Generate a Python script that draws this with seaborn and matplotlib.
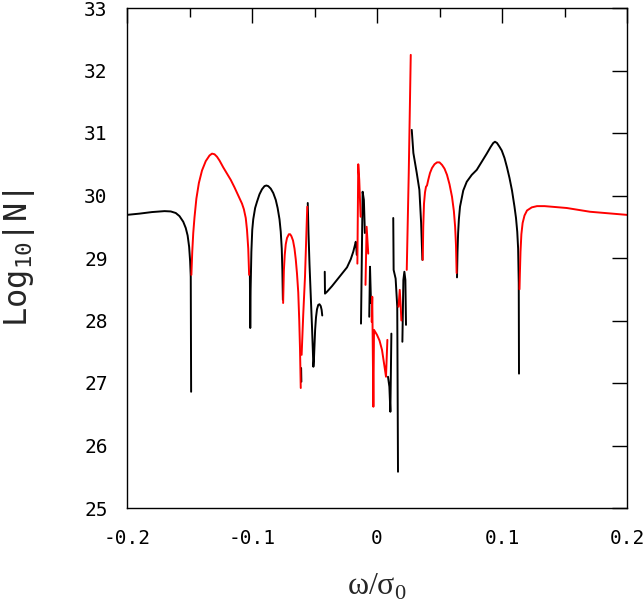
import matplotlib
matplotlib.use("Agg")
import matplotlib.pyplot as plt
import seaborn as sns
from matplotlib.ticker import MultipleLocator

# traced branches of log10|N| vs omega/sigma0 (colour alternates along the curve)
b1_x = [-0.2, -0.19, -0.18, -0.17, -0.165, -0.161, -0.158, -0.155, -0.153, -0.1515, -0.1503, -0.1495, -0.149, -0.1488, -0.1487]
b1_y = [29.69, 29.71, 29.735, 29.75, 29.745, 29.72, 29.67, 29.58, 29.48, 29.36, 29.18, 28.95, 28.7, 27.5, 26.86]
r1_x = [-0.1485, -0.1478, -0.147, -0.146, -0.1445, -0.1425, -0.14, -0.137, -0.134, -0.132, -0.13, -0.128,
        -0.126, -0.123, -0.12, -0.117, -0.114, -0.111, -0.108, -0.1065, -0.105, -0.104, -0.103, -0.1023]
r1_y = [28.73, 29.1, 29.4, 29.65, 29.95, 30.2, 30.4, 30.55, 30.64, 30.67, 30.66, 30.62,
        30.56, 30.45, 30.35, 30.25, 30.13, 30.0, 29.87, 29.78, 29.64, 29.45, 29.15, 28.73]
b2_x = [-0.1017, -0.1014, -0.1011, -0.1005, -0.0998, -0.099, -0.0975, -0.096, -0.094, -0.092, -0.09,
        -0.0885, -0.087, -0.085, -0.083, -0.081, -0.0795, -0.078, -0.077, -0.0762, -0.0757, -0.0753]
b2_y = [28.73, 27.88, 28.5, 29.1, 29.45, 29.62, 29.8, 29.9, 30.02, 30.1, 30.15,
        30.16, 30.15, 30.11, 30.04, 29.93, 29.8, 29.62, 29.42, 29.15, 28.8, 28.33]
r2_x = [-0.0751, -0.0745, -0.0738, -0.073, -0.072, -0.0705, -0.0695, -0.0685, -0.0672, -0.066, -0.065,
        -0.064, -0.063, -0.0622, -0.0616, -0.061]
r2_y = [28.28, 28.8, 29.05, 29.22, 29.32, 29.38, 29.38, 29.35, 29.28, 29.15, 28.98,
        28.75, 28.45, 28.0, 27.55, 26.92]
b3_x = [-0.0607, -0.0605]
b3_y = [27.24, 27.02]
r3_x = [-0.0603, -0.059, -0.0576, -0.0558]
r3_y = [27.45, 28.1, 28.7, 29.82]
b4_x = [-0.0554, -0.0548, -0.054, -0.053, -0.052, -0.0512, -0.0509, -0.0505, -0.05, -0.0495, -0.0488,
        -0.048, -0.047, -0.046, -0.045, -0.0443, -0.0438]
b4_y = [29.88, 29.4, 28.9, 28.4, 27.9, 27.45, 27.26, 27.35, 27.6, 27.85, 28.05,
        28.18, 28.25, 28.26, 28.23, 28.17, 28.08]
b5_x = [-0.0418, -0.0416, -0.04, -0.036, -0.032, -0.028, -0.024, -0.021, -0.019, -0.0176, -0.017, -0.0166, -0.0162]
b5_y = [28.78, 28.43, 28.46, 28.55, 28.65, 28.75, 28.85, 28.98, 29.1, 29.21, 29.26, 29.2, 29.05]
r4_x = [-0.0157, -0.015, -0.0142, -0.0131]
r4_y = [28.91, 30.5, 30.25, 29.66]
b6_x = [-0.0128, -0.0115, -0.0105, -0.0097]
b6_y = [27.95, 30.06, 29.93, 29.4]
r5_x = [-0.0092, -0.0083, -0.007]
r5_y = [28.57, 29.5, 29.07]
b7_x = [-0.0062, -0.0056, -0.0048]
b7_y = [28.06, 28.86, 28.28]
r6_x = [-0.0043, -0.0038, -0.0029, -0.0024, -0.0015, 0.0, 0.002, 0.004, 0.0064, 0.0072, 0.0083]
r6_y = [27.98, 28.38, 26.62, 27.85, 27.82, 27.77, 27.68, 27.53, 27.21, 27.1, 27.69]
b8_x = [0.0088, 0.0099, 0.0107, 0.0115]
b8_y = [27.1, 26.94, 26.54, 27.79]
b9_x = [0.013, 0.0133, 0.0149, 0.0162, 0.0168]
b9_y = [29.64, 28.81, 28.67, 28.22, 25.58]
r7_x = [0.0172, 0.0182, 0.019, 0.0195]
r7_y = [28.22, 28.49, 28.22, 28.0]
b10_x = [0.0203, 0.0211, 0.0219, 0.0227, 0.0232]
b10_y = [27.66, 28.65, 28.78, 28.65, 27.93]
r8_x = [0.0238, 0.0254, 0.027]
r8_y = [28.81, 30.36, 32.25]
b11_x = [0.0278, 0.0291, 0.0318, 0.0339, 0.0353, 0.0363]
b11_y = [31.05, 30.68, 30.36, 30.09, 29.56, 28.97]
r9_x = [0.0366, 0.037, 0.0376, 0.0384, 0.0392, 0.04, 0.041, 0.0424, 0.044, 0.046, 0.048, 0.05,
        0.052, 0.054, 0.056, 0.058, 0.06, 0.0615, 0.0625, 0.0632, 0.0637]
r9_y = [28.97, 29.5, 29.87, 30.05, 30.14, 30.16, 30.25, 30.36, 30.44, 30.5, 30.53, 30.53,
        30.49, 30.43, 30.33, 30.18, 29.98, 29.75, 29.5, 29.2, 28.76]
b12_x = [0.064, 0.0644, 0.0649, 0.0655, 0.0664, 0.069, 0.0718, 0.0758, 0.0798, 0.0838, 0.0878, 0.091,
         0.093, 0.0944, 0.096, 0.098, 0.0998, 0.102, 0.104, 0.106, 0.108, 0.11, 0.1112, 0.1122,
         0.1129, 0.1134, 0.1136]
b12_y = [28.69, 29.1, 29.4, 29.62, 29.82, 30.08, 30.22, 30.33, 30.41, 30.54, 30.67, 30.78,
         30.84, 30.86, 30.84, 30.78, 30.72, 30.6, 30.45, 30.28, 30.08, 29.82, 29.64, 29.42,
         29.15, 28.6, 27.15]
r10_x = [0.114, 0.1143, 0.1148, 0.1155, 0.1165, 0.118, 0.12, 0.1238, 0.128, 0.134, 0.14, 0.1518, 0.1704, 0.2]
r10_y = [28.5, 28.75, 29.1, 29.38, 29.56, 29.68, 29.76, 29.81, 29.83, 29.83, 29.82, 29.8, 29.74, 29.69]

black = [(b1_x, b1_y), (b2_x, b2_y), (b3_x, b3_y), (b4_x, b4_y), (b5_x, b5_y), (b6_x, b6_y),
         (b7_x, b7_y), (b8_x, b8_y), (b9_x, b9_y), (b10_x, b10_y), (b11_x, b11_y), (b12_x, b12_y)]
red = [(r1_x, r1_y), (r2_x, r2_y), (r3_x, r3_y), (r4_x, r4_y), (r5_x, r5_y),
       (r6_x, r6_y), (r7_x, r7_y), (r8_x, r8_y), (r9_x, r9_y), (r10_x, r10_y)]

x_ticks = [-0.2, -0.1, 0, 0.1, 0.2]
x_ticklabels = ["-0.2", "-0.1", "0", "0.1", "0.2"]
y_ticks = [25, 26, 27, 28, 29, 30, 31, 32, 33]

sns.set_style("white")
plt.rcParams["font.family"] = ["DejaVu Sans Mono", "DejaVu Sans"]
plt.rcParams["mathtext.fontset"] = "custom"
plt.rcParams["mathtext.rm"] = "Liberation Serif"
plt.rcParams["mathtext.tt"] = "DejaVu Sans Mono"

fig = plt.figure(figsize=(6.43, 6.10), dpi=100)
ax = fig.add_axes([127 / 643, 1 - 508 / 610, 500 / 643, 500 / 610])

for xs, ys in black:
    sns.lineplot(x=xs, y=ys, ax=ax, color="black", lw=1.4, sort=False, estimator=None)
for xs, ys in red:
    sns.lineplot(x=xs, y=ys, ax=ax, color="#ff0000", lw=1.4, sort=False, estimator=None)

ax.set_xlim(-0.2, 0.2)
ax.set_ylim(25, 33)
ax.set_xticks(x_ticks)
ax.set_xticklabels(x_ticklabels)
ax.xaxis.set_minor_locator(MultipleLocator(0.05))
ax.set_yticks(y_ticks)

for s in ax.spines.values():
    s.set_visible(True)
    s.set_color("black")
    s.set_linewidth(1.0)
ax.tick_params(which="both", direction="in", top=True, right=True, colors="black", width=1.0)
ax.tick_params(which="major", length=11, labelsize=14)
ax.tick_params(which="minor", length=6.5)
ax.tick_params(axis="x", pad=15)
ax.tick_params(axis="y", pad=14)

ax.set_xlabel(r"$\mathrm{ω/σ}_{\mathrm{0}}$", fontsize=23)
ax.set_ylabel(r"$\mathtt{Log}_{\mathtt{10}}\mathtt{|N|}$", fontsize=23)
ax.xaxis.set_label_coords(0.5, -0.125)
ax.yaxis.set_label_coords(-0.18, 0.5)

fig.savefig("out.png", dpi=100)
